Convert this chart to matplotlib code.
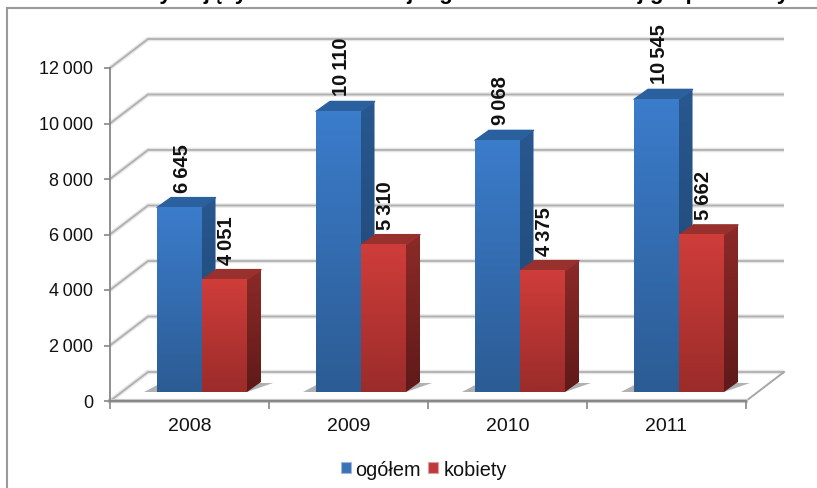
import numpy as np
import matplotlib
matplotlib.use('Agg')
import matplotlib.pyplot as plt
from matplotlib.patches import Polygon, Rectangle
from matplotlib.colors import LinearSegmentedColormap

plt.rcParams['font.family'] = ['Liberation Sans', 'DejaVu Sans']

#data
Years = ['2008', '2009', '2010', '2011']
Ogolem = [6645, 10110, 9068, 10545]
Kobiety = [4051, 5310, 4375, 5662]
Ogolem_lab = ['6\u2009645', '10\u2009110', '9\u2009068', '10\u2009545']
Kobiety_lab = ['4\u2009051', '5\u2009310', '4\u2009375', '5\u2009662']
Yticks = [0, 2000, 4000, 6000, 8000, 10000, 12000]
Ytick_lab = ['0', '2\u2009000', '4\u2009000', '6\u2009000', '8\u2009000', '10\u2009000', '12\u2009000']
Title = 'Korzystających z rehabilitacji ogółem i kobiet w tej grupie osoby'

W, H = 817, 488
fig = plt.figure(figsize=(W / 100, H / 100), dpi=100)
fig.patch.set_facecolor('white')
fig.patches.append(Rectangle((7 / W, -0.02), 1, 1 - 8 / H + 0.02, transform=fig.transFigure,
                             fill=False, ec='#9a9a9a', lw=1.5))

# axes: front edge of the plot box
ax = fig.add_axes([110 / W, (H - 401) / H, 636 / W, 333 / H])
ax.set_xlim(0, 4)
ax.set_ylim(0, 12000)
ax.patch.set_alpha(0)
for s in ['top', 'right']:
    ax.spines[s].set_visible(False)
for s in ['left', 'bottom']:
    ax.spines[s].set_color('#868686')
    ax.spines[s].set_linewidth(1.3)

px = 4 / 636          # one pixel in x data
py = 12000 / 333      # one pixel in y data
dx, dy = 38 * px, 29 * py     # depth of the box


def grid_line(v):
    ax.plot([0, dx, 4 + dx], [v, v + dy, v + dy], c='#e6e6e6', lw=3.2, clip_on=False, zorder=1,
            solid_joinstyle='miter', solid_capstyle='butt')
    ax.plot([0, dx, 4 + dx], [v, v + dy, v + dy], c='#b0b0b0', lw=1.3, clip_on=False, zorder=1.1,
            solid_joinstyle='miter', solid_capstyle='butt')


for v in Yticks:
    grid_line(v)
# floor, right and front edges
ax.plot([4, 4 + dx], [0, dy], c='#a6a6a6', lw=1.4, clip_on=False, zorder=1.1)
ax.plot([0, 4], [0, 0], c='#c8c8c8', lw=3, clip_on=False, zorder=1.2)
ax.plot([0, 4], [0, 0], c='#8c8c8c', lw=1.2, clip_on=False, zorder=1.3)

bw = 0.28
off_x, off_y = 12.5 * px, 9 * py    # bars stand a bit behind the front edge
sx, sy = 14 * px, 10 * py           # bar side face

blue = LinearSegmentedColormap.from_list('b', ['#2c5c94', '#3b7ccb'])
blue_top = '#2b609f'
red = LinearSegmentedColormap.from_list('r', ['#9b2c2a', '#cf3d3a'])
red_side = LinearSegmentedColormap.from_list('rs', ['#5f1a19', '#8c2a28'])
blue_s = LinearSegmentedColormap.from_list('bs', ['#1e4470', '#28588f'])
grad = np.linspace(1, 0, 64).reshape(-1, 1)


def draw_bar(i, v, left, cmap, side_cmap, top_col, z):
    x0 = i + 0.5 + off_x + left
    x1 = x0 + bw
    y0 = off_y
    y1 = off_y + v
    # shadow on the floor
    sh = Polygon([(x0 - 13 * px, y0), (x1, y0), (x1 + 26 * px, y0 + 9 * py), (x0 + 4 * px, y0 + 9 * py)],
                 fc='#7d7d7d', ec='none', alpha=0.6, zorder=2, clip_on=False)
    ax.add_patch(sh)
    # side face
    im = ax.imshow(grad, cmap=side_cmap, aspect='auto', extent=(x1, x1 + sx, y0, y1 + sy),
                   zorder=z, interpolation='bilinear')
    im.set_clip_path(Polygon([(x1, y0), (x1 + sx, y0 + sy), (x1 + sx, y1 + sy), (x1, y1)],
                             transform=ax.transData))
    # top face
    ax.add_patch(Polygon([(x0, y1), (x1, y1), (x1 + sx, y1 + sy), (x0 + sx, y1 + sy)],
                         fc=top_col, ec=top_col, lw=1, joinstyle='round', zorder=z, clip_on=False))
    # front face
    ax.imshow(grad, cmap=cmap, aspect='auto', extent=(x0, x1, y0, y1), zorder=z + 0.1,
              interpolation='bilinear')


for i in range(4):
    draw_bar(i, Ogolem[i], -bw - 0.003, blue, blue_s, blue_top, 3)
    draw_bar(i, Kobiety[i], 0.003, red, red_side, '#98302e', 4)
    xb = i + 0.5 + off_x
    ax.text(xb - bw / 2 + 0.015, Ogolem[i] + off_y + sy + 5 * py, Ogolem_lab[i], rotation=90, ha='center', va='bottom',
            fontsize=14.5, fontweight='bold', color='#111111', zorder=6, clip_on=False)
    ax.text(xb + bw / 2 + 0.015, Kobiety[i] + off_y + sy + 5 * py, Kobiety_lab[i], rotation=90, ha='center', va='bottom',
            fontsize=14.5, fontweight='bold', color='#111111', zorder=6, clip_on=False)

ax.set_xlim(0, 4)
ax.set_ylim(0, 12000)
ax.set_xticks([0, 1, 2, 3, 4])
ax.set_xticklabels([])
ax.set_xticks([0.5, 1.5, 2.5, 3.5], Years, minor=True)
ax.tick_params(axis='x', which='minor', length=0, labelsize=14, pad=12, colors='#111111')
ax.tick_params(axis='x', which='major', length=6, color='#868686', width=1.2)
ax.set_yticks(Yticks, Ytick_lab)
ax.tick_params(axis='y', length=4, color='#868686', width=1.2, labelsize=13, pad=8, labelcolor='#111111')

# title is cut by the top of the picture, only the descenders show
fig.text(450 / W, (H + 0.5) / H, Title, ha='center', va='baseline', fontsize=16, fontweight='bold', color='black')

# legend
fig.patches.append(Rectangle((341 / W, (H - 473) / H), 10 / W, 11 / H, transform=fig.transFigure,
                             fc='#3b72b8', ec='#9db8d8', lw=0.8))
fig.patches.append(Rectangle((428 / W, (H - 473) / H), 10 / W, 11 / H, transform=fig.transFigure,
                             fc='#c0393b', ec='#d9a0a0', lw=0.8))
fig.text(355 / W, (H - 471) / H, 'ogółem', ha='left', va='center', fontsize=14.3, color='#111111')
fig.text(444 / W, (H - 471) / H, 'kobiety', ha='left', va='center', fontsize=14.3, color='#111111')

fig.savefig('out.png', dpi=100)
